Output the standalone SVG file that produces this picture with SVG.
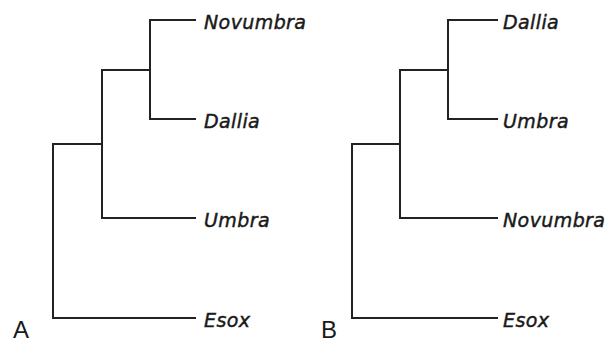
<svg xmlns="http://www.w3.org/2000/svg" width="611" height="343" viewBox="0 0 611 343">
<style>
.br{fill:none;stroke:#222;stroke-width:2;stroke-linecap:square}
.t{font-family:"DejaVu Sans",Verdana,sans-serif;font-style:italic;font-size:19px;letter-spacing:0.4px;fill:#1a1a1a;stroke:#1a1a1a;stroke-width:0.45}
.p{font-family:"Liberation Sans",Arial,sans-serif;font-size:24px;fill:#1a1a1a}
</style>
<rect width="611" height="343" fill="#fff"/>
<g id="connectors">
<path class="br" d="M195,20 H150 V119 H195"/>
<path class="br" d="M150,70 H102 V218 H195"/>
<path class="br" d="M102,144 H53 V318 H195"/>
<path class="br" d="M497,20 H448 V119 H497"/>
<path class="br" d="M448,70 H400 V218 H497"/>
<path class="br" d="M400,144 H352 V318 H497"/>
</g>
<g id="A-Novumbra"><text class="t" x="204" y="29">Novumbra</text></g>
<g id="A-Dallia"><text class="t" x="204" y="128">Dallia</text></g>
<g id="A-Umbra"><text class="t" x="204" y="227">Umbra</text></g>
<g id="A-Esox"><text class="t" x="204" y="327">Esox</text></g>
<g id="B-Dallia"><text class="t" x="503" y="29">Dallia</text></g>
<g id="B-Umbra"><text class="t" x="503" y="128">Umbra</text></g>
<g id="B-Novumbra"><text class="t" x="503" y="227">Novumbra</text></g>
<g id="B-Esox"><text class="t" x="503" y="327">Esox</text></g>
<g id="label-A"><text class="p" x="13" y="338">A</text></g>
<g id="label-B"><text class="p" x="321" y="338">B</text></g>
</svg>
